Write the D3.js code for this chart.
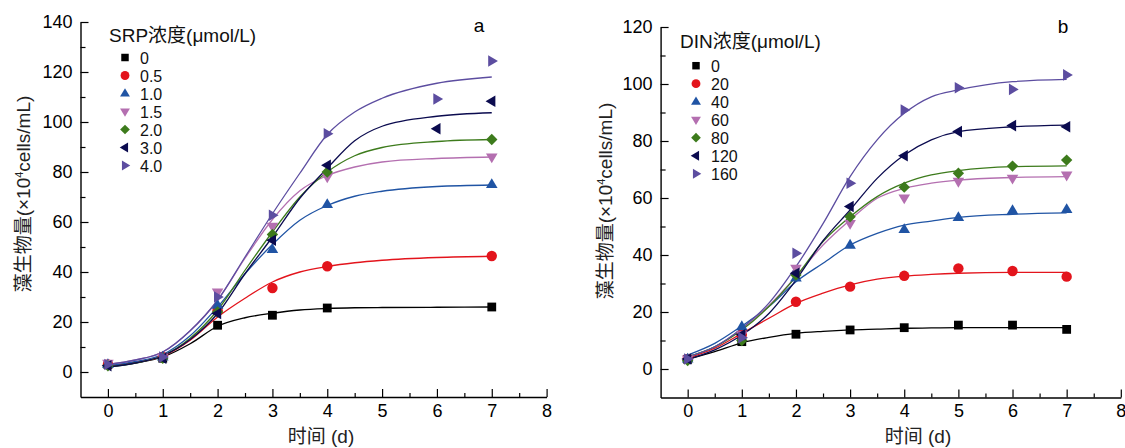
<!DOCTYPE html>
<html>
<head>
<meta charset="utf-8">
<script src="https://cdn.jsdelivr.net/npm/d3@7"></script>
<style>
  body { margin: 0; background: #fff; }
  svg { display: block; font-family: 'Liberation Sans', Arial, 'Noto Sans CJK SC', sans-serif; }
</style>
</head>
<body>
<svg id="chart" width="1125" height="448"></svg>
<script>
const days = [0, 1, 2, 3, 4, 5, 6, 7];
const fitDays = [0, 0.5, 1, 1.5, 2, 2.5, 3, 3.5, 4, 4.5, 5, 6, 7];

const colors = ['#000000', '#e3141c', '#2054a4', '#b46fb0', '#3d7b1c', '#0b0b4f', '#5c4da0'];
const shapes = ['square', 'circle', 'triUp', 'triDown', 'diamond', 'triLeft', 'triRight'];

// panel a: SRP
const srpLabels = ['0', '0.5', '1.0', '1.5', '2.0', '3.0', '4.0'];
const srpObs = [
  [3, 5.5, 18.7, 22.7, 25.6, null, null, 26],
  [3, 6, 24.7, 33.6, 42.3, null, null, 46.4],
  [3, 6, 26.7, 49, 67, null, null, 75],
  [3.5, 6, 32, 58.3, 78, null, null, 86],
  [2.5, 5.5, 24, 55, 80, null, null, 93],
  [2.5, 5.5, 23.4, 52.7, 82.7, null, 97.3, 108.3],
  [3, 6, 30, 62.7, 95.3, null, 109.2, 124.4]
];
const srpFit = [
  [2.2, 3.6, 6, 11.3, 18.3, 21.7, 23.5, 24.8, 25.4, 25.7, 25.8, 25.9, 26],
  [2.2, 3.8, 6.3, 12.7, 22, 29.5, 36, 40, 42.2, 43.7, 44.7, 45.8, 46.3],
  [2.5, 4.2, 7, 14.5, 26, 39.3, 51, 60.7, 66.6, 70.3, 72.3, 74.2, 74.8],
  [3, 4.8, 8, 16.5, 28.7, 45.5, 61, 72.5, 78.6, 82, 84, 85.4, 86],
  [2, 3.6, 6.5, 13.5, 24.7, 40.7, 56, 70, 80, 86.5, 89.8, 92.2, 93],
  [2, 3.6, 6.5, 13, 23.4, 39.3, 54, 69.5, 81.5, 92.5, 98.3, 102.3, 103.7],
  [3, 4.8, 8, 16.5, 28.7, 46, 63.3, 79.5, 95, 104, 109.5, 115.5, 118]
];

// panel b: DIN
const dinLabels = ['0', '20', '40', '60', '80', '120', '160'];
const dinObs = [
  [3.4, 9.6, 12.2, 13.7, 14.5, 15.4, 15.4, 13.9],
  [3.5, 12, 23.6, 28.9, 32.7, 35.3, 34.4, 32.4],
  [3.5, 14.9, 32, 43.5, 49, 53.2, 55.6, 56],
  [3.5, 12, 35.3, 51, 60, 65.8, 66.9, 68],
  [3, 10, 33, 53.4, 63.8, 68.7, 71.2, 73.3],
  [3.5, 12, 33.6, 57, 74.8, 83.3, 85.4, 85],
  [3.5, 11, 40.6, 65.2, 90.9, 98.7, 98.1, 103.2]
];
const dinFit = [
  [3.4, 6.1, 9.2, 11.1, 12.5, 13.2, 13.7, 14.0, 14.3, 14.4, 14.5, 14.5, 14.5],
  [3.8, 7.3, 12.5, 17.8, 23, 26.6, 29.5, 31.5, 32.6, 33.2, 33.6, 33.9, 33.9],
  [4.9, 9, 15.1, 21.9, 30.6, 37.1, 43.5, 47.6, 50.5, 51.9, 53.2, 54.3, 54.8],
  [4.3, 7.8, 14, 22.2, 32.4, 43.5, 52.3, 59.9, 63.4, 65.2, 66.3, 67.2, 67.5],
  [4.3, 7.8, 13.7, 21.9, 32.4, 44.7, 53.4, 60.5, 65.2, 68.1, 69.6, 71, 71.3],
  [3.4, 6.7, 11.9, 19.5, 31.2, 45, 55.8, 66.9, 75.1, 80.4, 83.3, 85, 85.6],
  [4.3, 7.8, 14.3, 23.1, 35.9, 51, 67.5, 80.4, 89.7, 95.5, 97.9, 100.8, 101.6]
];

const xTicks = [0, 1, 2, 3, 4, 5, 6, 7, 8];
const xMinor = [0.5, 1.5, 2.5, 3.5, 4.5, 5.5, 6.5, 7.5];

const markerPaths = {
  square: 'M-4.4,-4.4h8.8v8.8h-8.8Z',
  circle: 'M5.2,0A5.2,5.2 0 1,1 -5.2,0A5.2,5.2 0 1,1 5.2,0Z',
  triUp: 'M0,-6.2L5.8,3.6L-5.8,3.6Z',
  triDown: 'M0,6.2L5.8,-3.6L-5.8,-3.6Z',
  triLeft: 'M-6.2,0L3.6,-5.8L3.6,5.8Z',
  triRight: 'M6.2,0L-3.6,-5.8L-3.6,5.8Z',
  diamond: 'M0,-5.7L5.7,0L0,5.7L-5.7,0Z'
};

const svg = d3.select('#chart');
svg.append('rect').attr('width', 1125).attr('height', 448).attr('fill', '#fff');

function drawPanel(cfg) {
  const x = d3.scaleLinear().domain([-0.5, 8]).range(cfg.xRange);
  const y = d3.scaleLinear().domain(cfg.yDomain).range(cfg.yRange);
  const g = svg.append('g');
  const y0 = cfg.yRange[0];
  const x0 = cfg.xRange[0];

  // y axis: labelled major ticks, short minor ticks, all pointing inward
  g.append('g').attr('transform', `translate(${x0},0)`)
    .call(d3.axisLeft(y).tickValues(cfg.yTicks).tickSize(-8).tickSizeOuter(0).tickPadding(8));
  g.append('g').attr('transform', `translate(${x0},0)`)
    .call(d3.axisLeft(y).tickValues(cfg.yMinor).tickSize(-5).tickSizeOuter(0).tickFormat(''))
    .select('.domain').remove();

  g.append('g').attr('transform', `translate(0,${y0})`)
    .call(d3.axisBottom(x).tickValues(xTicks).tickSize(-8).tickSizeOuter(0).tickPadding(7));
  g.append('g').attr('transform', `translate(0,${y0})`)
    .call(d3.axisBottom(x).tickValues(xMinor).tickSize(-4).tickSizeOuter(0).tickFormat(''))
    .select('.domain').remove();

  g.selectAll('.domain').attr('stroke', '#000').attr('stroke-width', 1.4);
  g.selectAll('.tick line').attr('stroke', '#000').attr('stroke-width', 1.2);
  g.selectAll('.tick text').attr('fill', '#000').style('font-size', '18px')
    .style('font-family', "'Liberation Sans', Arial, sans-serif");

  // axis titles
  g.append('text')
    .attr('x', cfg.xTitleX).attr('y', 443)
    .attr('text-anchor', 'middle').style('font-size', '19px').attr('fill', '#222')
    .text('时间 (d)');
  const yt = g.append('text')
    .attr('transform', `translate(${cfg.yTitle[0]},${cfg.yTitle[1]}) rotate(-90)`)
    .attr('text-anchor', 'middle').attr('dy', '0.35em')
    .style('font-size', '19px').attr('fill', '#222');
  yt.append('tspan').text('藻生物量(×10');
  yt.append('tspan').attr('dy', -7).style('font-size', '11px').text('4');
  yt.append('tspan').attr('dy', 7).text('cells/mL)');

  // panel letter
  g.append('text').attr('x', cfg.letter[0]).attr('y', cfg.letter[1])
    .attr('text-anchor', 'middle').style('font-size', '19px').text(cfg.letterText);

  // fitted curves
  const line = d3.line().x((d, i) => x(fitDays[i])).y(d => y(d)).curve(d3.curveMonotoneX);
  g.selectAll('.fit').data(cfg.fit).join('path')
    .attr('class', 'fit')
    .attr('d', line)
    .attr('fill', 'none')
    .attr('stroke', (d, i) => colors[i])
    .attr('stroke-width', 1.3);

  // observed points
  cfg.obs.forEach((series, i) => {
    g.append('g').selectAll('path')
      .data(series.map((v, j) => ({day: days[j], v})).filter(d => d.v !== null))
      .join('path')
      .attr('transform', d => `translate(${x(d.day)},${y(d.v)})`)
      .attr('d', markerPaths[shapes[i]])
      .attr('fill', colors[i]);
  });

  // legend
  const lg = g.append('g');
  lg.append('text').attr('x', cfg.legend.x).attr('y', cfg.legend.titleY)
    .style('font-size', '19px').attr('fill', '#111').text(cfg.legendTitle);
  cfg.labels.forEach((lab, i) => {
    const cy = cfg.legend.rowY + i * cfg.legend.step;
    lg.append('path')
      .attr('transform', `translate(${cfg.legend.markX},${cy}) scale(0.85)`)
      .attr('d', markerPaths[shapes[i]])
      .attr('fill', colors[i]);
    lg.append('text').attr('x', cfg.legend.textX).attr('y', cy + 6)
      .style('font-size', '16px').attr('fill', '#111').text(lab);
  });
}

drawPanel({
  xRange: [80.5, 546.6], yDomain: [-10, 140], yRange: [397, 22],
  yTicks: d3.range(0, 141, 20), yMinor: d3.range(10, 131, 20),
  fit: srpFit, obs: srpObs, labels: srpLabels,
  legendTitle: 'SRP浓度(μmol/L)',
  legend: {x: 109, titleY: 42, rowY: 57.5, step: 18, markX: 125, textX: 140},
  xTitleX: 321, yTitle: [23, 194], letter: [479, 32], letterText: 'a'
});

drawPanel({
  xRange: [660.6, 1120.8], yDomain: [-10, 120], yRange: [397.5, 27],
  yTicks: d3.range(0, 121, 20), yMinor: d3.range(10, 111, 20),
  fit: dinFit, obs: dinObs, labels: dinLabels,
  legendTitle: 'DIN浓度(μmol/L)',
  legend: {x: 680, titleY: 48, rowY: 65.7, step: 18, markX: 696, textX: 711},
  xTitleX: 918, yTitle: [605, 201], letter: [1063, 33], letterText: 'b'
});
</script>
</body>
</html>
